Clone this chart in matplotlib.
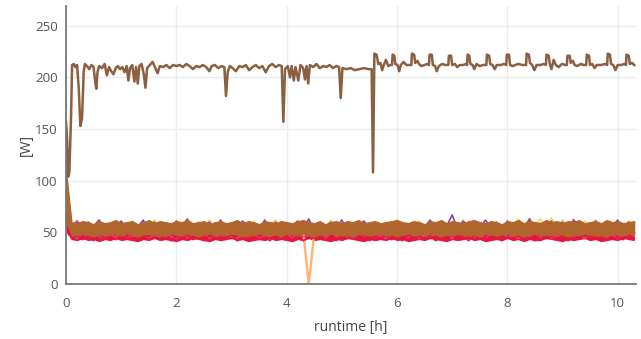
import numpy as np
import matplotlib
matplotlib.use("Agg")
import matplotlib.pyplot as plt

plt.rcParams['font.family'] = ['Open Sans', 'DejaVu Sans']

# Power draw [W] of the high-load node, sampled irregularly (runtime in hours)
hi_t = [0.00, 0.02, 0.04, 0.06, 0.09, 0.11, 0.14, 0.17, 0.20, 0.23, 0.26, 0.29, 0.32, 0.34,
        0.38, 0.42, 0.46, 0.50, 0.53, 0.55, 0.57, 0.60, 0.65, 0.70, 0.74, 0.78, 0.82, 0.86,
        0.90, 0.94, 0.98, 1.02, 1.06, 1.10, 1.13, 1.16, 1.20, 1.24, 1.27, 1.30, 1.33, 1.37,
        1.41, 1.44, 1.47, 1.52, 1.57, 1.62, 1.66, 1.70, 1.76, 1.82, 1.88, 1.94, 2.00, 2.06,
        2.12, 2.18, 2.24, 2.30, 2.36, 2.42, 2.48, 2.54, 2.60, 2.64, 2.70, 2.76, 2.82, 2.87,
        2.90, 2.93, 2.97, 3.02, 3.08, 3.14, 3.20, 3.26, 3.32, 3.38, 3.44, 3.50, 3.56, 3.62,
        3.68, 3.74, 3.80, 3.86, 3.91, 3.94, 3.97, 4.02, 4.06, 4.09, 4.13, 4.16, 4.21, 4.25,
        4.30, 4.33, 4.36, 4.39, 4.42, 4.48, 4.54, 4.60, 4.66, 4.72, 4.78, 4.84, 4.90, 4.95,
        4.98, 5.01, 5.08, 5.16, 5.24, 5.32, 5.40, 5.48, 5.54, 5.565, 5.59, 5.63,
        5.66, 5.70, 5.73, 5.76, 5.80, 5.84, 5.88,
        5.91, 5.92, 5.95, 5.97, 6.01, 6.04, 6.07, 6.12, 6.17, 6.22,
        6.26, 6.27, 6.31, 6.33, 6.37, 6.40, 6.44, 6.50, 6.55,
        6.58, 6.59, 6.63, 6.65, 6.69, 6.72, 6.76, 6.82, 6.88, 6.92,
        6.93, 6.94, 6.98, 7.00, 7.05, 7.09, 7.14, 7.20, 7.25,
        7.27, 7.28, 7.31, 7.33, 7.37, 7.40, 7.44, 7.50, 7.56, 7.60,
        7.62, 7.63, 7.67, 7.69, 7.73, 7.77, 7.81, 7.88, 7.94,
        7.98, 7.99, 8.03, 8.05, 8.10, 8.14, 8.20, 8.27, 8.32,
        8.34, 8.35, 8.39, 8.41, 8.45, 8.49, 8.53, 8.60, 8.66,
        8.70, 8.71, 8.75, 8.77, 8.80, 8.84, 8.88, 8.93, 8.99, 9.05,
        9.08, 9.09, 9.13, 9.15, 9.19, 9.22, 9.27, 9.33, 9.39,
        9.43, 9.44, 9.48, 9.50, 9.54, 9.58, 9.62, 9.70, 9.77,
        9.81, 9.82, 9.86, 9.88, 9.92, 9.96, 10.00, 10.06, 10.12,
        10.15, 10.16, 10.20, 10.22, 10.26, 10.30]
hi_w = [157, 140, 104, 108, 160, 212, 213, 210, 212, 190, 153, 160, 205, 213,
        211, 208, 212, 210, 195, 189, 205, 211, 209, 213, 202, 210, 206, 203,
        209, 211, 208, 210, 205, 211, 197, 209, 212, 196, 210, 194, 211, 213,
        203, 190, 209, 212, 215, 209, 204, 211, 210, 212, 209, 212, 211, 212,
        210, 213, 211, 208, 211, 210, 212, 210, 206, 211, 212, 209, 211, 210,
        182, 205, 211, 209, 206, 211, 210, 212, 207, 210, 212, 209, 211, 205,
        211, 213, 210, 212, 211, 157, 208, 211, 200, 211, 197, 210, 197, 212,
        209, 198, 211, 194, 212, 210, 213, 209, 211, 210, 212, 209, 211, 210,
        180, 209, 208, 209, 207, 208, 209, 208, 208, 108, 223, 222,
        213, 214, 207, 212, 217, 211, 212,
        212, 222, 221, 213, 212, 206, 212, 215, 212, 212,
        212, 223, 222, 214, 216, 213, 211, 212, 213,
        212, 222, 222, 212, 211, 206, 211, 213, 212, 212,
        212, 221, 221, 212, 213, 210, 212, 212, 213,
        212, 222, 221, 213, 212, 208, 213, 211, 212, 212,
        212, 222, 221, 213, 212, 208, 212, 212, 213,
        212, 222, 222, 212, 211, 212, 213, 212, 212,
        212, 223, 222, 214, 212, 207, 212, 212, 213,
        212, 222, 221, 213, 208, 217, 212, 210, 213, 212,
        212, 221, 221, 214, 216, 212, 211, 213, 212,
        212, 222, 221, 212, 213, 209, 212, 212, 213,
        212, 223, 222, 213, 212, 207, 212, 212, 213,
        212, 222, 221, 213, 214, 212]

# Low-load nodes, one reading every 0.1 h.
# Main group: per-interval min / max envelope
group_max = [110, 60, 59, 61, 60, 58, 61, 59, 60, 62,
             59, 60, 61, 58, 60, 62, 59, 61, 60, 59,
             61, 60, 62, 59, 60, 61, 58, 60, 61, 59,
             60, 62, 59, 61, 60, 58, 61, 60, 59, 61,
             60, 59, 61, 62, 60, 59, 61, 58, 60, 61,
             59, 61, 60, 62, 59, 60, 61, 59, 60, 61,
             62, 60, 59, 61, 60, 58, 61, 60, 62, 59,
             61, 60, 59, 61, 62, 60, 59, 61, 60, 58,
             61, 60, 62, 59, 61, 60, 59, 62, 60, 61,
             59, 61, 60, 62, 59, 60, 61, 59, 62, 60,
             61, 59, 60, 61]
group_min = [60, 48, 47, 49, 48, 46, 48, 47, 49, 48,
             47, 49, 48, 46, 48, 49, 47, 48, 46, 49,
             48, 47, 49, 48, 46, 48, 49, 47, 48, 47,
             49, 48, 46, 48, 47, 49, 48, 47, 48, 46,
             49, 48, 47, 49, 48, 46, 48, 47, 49, 48,
             47, 48, 46, 49, 48, 47, 48, 49, 47, 48,
             46, 48, 49, 47, 48, 47, 49, 48, 46, 48,
             47, 49, 48, 47, 48, 46, 49, 48, 47, 48,
             49, 47, 48, 46, 48, 49, 47, 48, 47, 49,
             48, 46, 48, 47, 49, 48, 47, 48, 46, 49,
             48, 47, 49, 48]
# lowest node: per-interval minimum
red_min = [50, 43, 42, 44, 42, 43, 41, 43, 42, 44,
           42, 43, 42, 41, 43, 42, 44, 42, 43, 42,
           41, 43, 42, 44, 43, 42, 41, 43, 42, 43,
           44, 42, 43, 41, 42, 43, 42, 44, 42, 43,
           42, 41, 43, 42, 44, 42, 43, 42, 41, 43,
           42, 44, 43, 42, 41, 43, 42, 43, 42, 44,
           42, 43, 41, 42, 43, 42, 44, 43, 42, 41,
           43, 42, 43, 44, 42, 43, 41, 42, 43, 42,
           44, 42, 43, 41, 43, 42, 42, 44, 43, 42,
           41, 43, 42, 43, 44, 42, 43, 41, 42, 43,
           42, 44, 43, 42]
node_red = [60, 44, 47, 43, 46, 42, 48, 44, 46, 43,
            47, 44, 45, 42, 48, 43, 46, 44, 47, 42,
            46, 44, 48, 43, 45, 42, 47, 44, 46, 43,
            48, 42, 46, 44, 47, 43, 45, 42, 48, 44,
            46, 43, 47, 42, 45, 44, 48, 43, 46, 42,
            47, 44, 45, 43, 48, 42, 46, 44, 47, 43,
            45, 42, 48, 44, 46, 43, 47, 42, 45, 44,
            48, 43, 46, 42, 47, 44, 45, 43, 48, 42,
            46, 44, 47, 43, 45, 42, 48, 44, 46, 43,
            47, 42, 45, 44, 48, 43, 46, 42, 47, 44,
            45, 43, 47, 44]
node_pink = [62, 47, 44, 49, 45, 50, 46, 44, 48, 45,
             50, 44, 47, 46, 49, 44, 48, 45, 50, 46,
             44, 49, 45, 48, 46, 50, 44, 47, 45, 49,
             46, 44, 50, 45, 48, 44, 47, 46, 49, 45,
             50, 44, 48, 46, 47, 45, 49, 44, 50, 46,
             48, 45, 44, 49, 46, 50, 45, 47, 44, 48,
             46, 49, 45, 50, 44, 47, 46, 48, 45, 49,
             44, 50, 46, 47, 45, 48, 44, 49, 46, 50,
             45, 47, 44, 48, 46, 49, 45, 50, 44, 47,
             46, 48, 45, 49, 44, 50, 46, 47, 45, 48,
             44, 49, 46, 47]
node_blue = [58, 50, 54, 48, 55, 51, 47, 53, 49, 56,
             50, 54, 47, 52, 55, 49, 53, 48, 56, 51,
             47, 54, 50, 55, 48, 52, 56, 49, 53, 47,
             55, 50, 48, 54, 51, 56, 47, 53, 49, 55,
             52, 48, 54, 50, 56, 47, 53, 51, 55, 49,
             48, 54, 52, 56, 50, 47, 55, 49, 53, 51,
             56, 48, 52, 54, 47, 55, 50, 53, 49, 56,
             51, 47, 54, 50, 55, 48, 53, 52, 56, 49,
             47, 55, 51, 54, 48, 56, 50, 53, 47, 52,
             55, 49, 54, 51, 56, 48, 53, 50, 55, 47,
             52, 54, 49, 55]
node_purple = [64, 55, 61, 53, 60, 56, 62, 52, 59, 54,
               61, 53, 58, 55, 62, 51, 60, 54, 59, 52,
               61, 55, 63, 53, 58, 56, 60, 52, 62, 54,
               59, 53, 61, 55, 58, 51, 62, 54, 60, 52,
               59, 56, 61, 53, 63, 52, 58, 55, 60, 54,
               62, 51, 59, 56, 61, 53, 60, 52, 58, 55,
               61, 54, 58, 53, 59, 55, 62, 52, 60, 56,
               67, 53, 61, 54, 59, 52, 62, 55, 60, 53,
               61, 56, 58, 52, 63, 54, 59, 55, 61, 53,
               60, 52, 62, 56, 58, 54, 61, 53, 59, 55,
               62, 52, 60, 54]
node_yellow = [60, 56, 61, 55, 59, 57, 62, 54, 58, 56,
               60, 55, 61, 57, 59, 54, 62, 56, 58, 55,
               61, 57, 59, 54, 60, 56, 62, 55, 58, 57,
               59, 54, 61, 56, 60, 55, 58, 57, 62, 54,
               59, 56, 61, 55, 60, 57, 58, 54, 62, 56,
               60, 55, 59, 57, 61, 54, 58, 56, 60, 55,
               62, 57, 59, 54, 61, 56, 58, 55, 60, 57,
               59, 54, 62, 56, 60, 55, 61, 57, 58, 54,
               61, 56, 63, 55, 64, 57, 63, 56, 64, 55,
               62, 57, 63, 54, 61, 56, 62, 55, 60, 57,
               59, 55, 61, 56]
node_orange = [95, 53, 57, 50, 56, 52, 58, 49, 55, 51,
               57, 50, 54, 52, 58, 49, 56, 51, 55, 53,
               58, 50, 56, 49, 54, 52, 57, 51, 55, 50,
               56, 49, 58, 52, 55, 50, 57, 51, 54, 53,
               57, 50, 55, 51, 0, 49, 56, 52, 58, 50,
               55, 51, 57, 49, 54, 52, 58, 50, 56, 51,
               57, 49, 55, 52, 58, 50, 54, 51, 56, 53,
               58, 49, 55, 50, 57, 52, 54, 51, 56, 49,
               57, 52, 55, 50, 58, 51, 54, 49, 56, 53,
               55, 50, 57, 52, 54, 49, 58, 51, 55, 50,
               56, 52, 57, 50]

STEP = 0.1
x_ticks = [0, 2, 4, 6, 8, 10]
y_ticks = [0, 50, 100, 150, 200, 250]


def times(values):
    return STEP * np.arange(len(values))


fig = plt.figure(figsize=(6.41, 3.39), dpi=100)
ax = fig.add_axes([0.103, 0.162, 0.889, 0.820])

# lowest node band, below the main group
ax.fill_between(times(red_min), red_min, group_min, color="#e3173e", lw=0, zorder=2)

lines = [
    (node_yellow, "#f3dc5a", 1.2),
    (node_purple, "#8e3fb2", 1.2),
    (node_orange, "#f9b87a", 1.8),
    (node_blue, "#5a64c8", 1.0),
    (node_pink, "#ef3f78", 1.1),
    (node_red, "#e3173e", 1.2),
]
for vals, col, lw in lines:
    ax.plot(times(vals), vals, color=col, lw=lw, zorder=2)

# main group envelope on top
ax.fill_between(times(group_max), group_min, group_max, color="#b0652c", lw=0.8,
                edgecolor="#b0652c", zorder=2.5)

ax.plot(hi_t, hi_w, color="#8a5f42", lw=1.8, zorder=3)

ax.set_xlim(0, 10.33)
ax.set_ylim(0, 269)
ax.set_xticks(x_ticks)
ax.set_yticks(y_ticks)
ax.grid(True, color="#ececec", lw=1.0, zorder=0)
ax.set_axisbelow(True)

for s in ("top", "right"):
    ax.spines[s].set_visible(False)
for s in ("left", "bottom"):
    ax.spines[s].set_color("#777777")
    ax.spines[s].set_linewidth(1.3)
    ax.spines[s].set_zorder(4)

ax.tick_params(length=0, labelsize=9.5, labelcolor="#555555")
ax.tick_params(axis="x", pad=9)
ax.tick_params(axis="y", pad=6)

ax.set_xlabel("runtime [h]", fontsize=10, color="#444444")
ax.xaxis.set_label_coords(0.5, -0.13)
ax.set_ylabel("[W]", fontsize=10, color="#444444")
ax.yaxis.set_label_coords(-0.056, 0.5)

fig.savefig("out.png", dpi=100)
